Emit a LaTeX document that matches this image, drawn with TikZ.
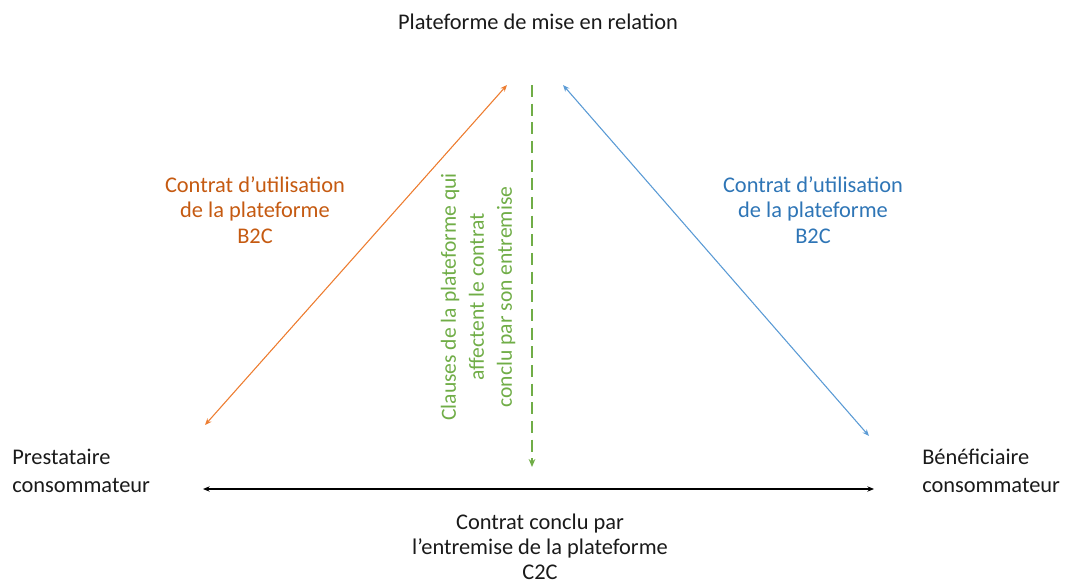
\documentclass[tikz,border=0pt]{standalone}
\usepackage{fontspec}
\setmainfont{Carlito}
\usetikzlibrary{arrows.meta}
\definecolor{orA}{HTML}{ED7D31}
\definecolor{orT}{HTML}{C55A11}
\definecolor{blA}{HTML}{5B9BD5}
\definecolor{blT}{HTML}{2E75B6}
\definecolor{grA}{HTML}{70AD47}
\definecolor{txt}{HTML}{1A1A1A}
\tikzset{
  lbl/.style={inner sep=0pt, align=center, font=\fontsize{16.8}{18.75}\selectfont, text=txt},
  clbl/.style={inner sep=0pt, align=center, font=\fontsize{16.8}{19.2}\selectfont},
  side/.style={inner sep=0pt, align=left, font=\fontsize{16.8}{21}\selectfont, text=txt, anchor=west},
  conn/.style={line width=0.8pt, {Stealth[length=5pt,width=4pt]}-{Stealth[length=5pt,width=4pt]}},
}
\begin{document}
\begin{tikzpicture}[x=0.75pt,y=-0.75pt]
\useasboundingbox (0,0) rectangle (1067,584);
\node[lbl] (title) at (538,22) {Plateforme de mise en relation};
\node[side] (prest) at (12,471) {Prestataire\\consommateur};
\node[side] (benef) at (922,471) {Bénéficiaire\\consommateur};
\node[lbl] (c2c) at (540,547) {Contrat conclu par\\l’entremise de la plateforme\\C2C};
\node[clbl, text=orT] (orl) at (255,210) {Contrat d’utilisation\\de la plateforme\\B2C};
\node[clbl, text=blT] (bll) at (813,210) {Contrat d’utilisation\\de la plateforme\\B2C};
\node[inner sep=0pt, align=center, font=\fontsize{16.2}{21}\selectfont, text=grA, rotate=90] (grl) at (478,297) {Clauses de la plateforme qui\\affectent le contrat\\conclu par son entremise};
\coordinate (oA) at (205,425);
\coordinate (oB) at (507,85);
\coordinate (bA) at (563,85);
\coordinate (bB) at (869,436);
\coordinate (gA) at (532,85);
\coordinate (gB) at (532,467);
\coordinate (kA) at (203,489);
\coordinate (kB) at (874,489);
\draw[conn, draw=orA, fill=orA] (oA) -- (oB);
\draw[conn, draw=blA, fill=blA] (bA) -- (bB);
\draw[conn, draw=black] (kA) -- (kB);
\draw[draw=grA, line width=2pt, dash pattern=on 9pt off 5pt, -{Stealth[length=6pt,width=5pt]}] (gA) -- (gB);
\end{tikzpicture}
\end{document}
